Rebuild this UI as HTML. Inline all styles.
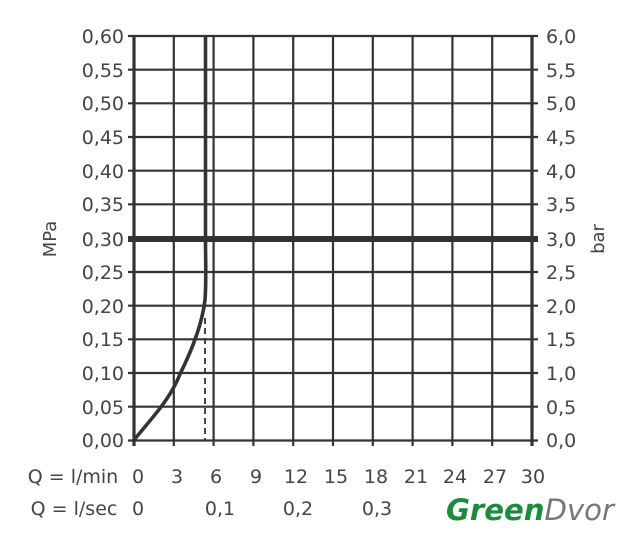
<!DOCTYPE html>
<html><head><meta charset="utf-8"><style>
html,body{margin:0;padding:0;background:#fff;}
svg{display:block;}
text{font-family:"DejaVu Sans","Liberation Sans",sans-serif;fill:#444;}
</style></head><body>
<svg width="629" height="551" viewBox="0 0 629 551" xmlns="http://www.w3.org/2000/svg">
<g stroke="#333" stroke-width="2.2" fill="none">
<line x1="173.8" y1="36" x2="173.8" y2="446"/>
<line x1="213.6" y1="36" x2="213.6" y2="446"/>
<line x1="253.4" y1="36" x2="253.4" y2="446"/>
<line x1="293.2" y1="36" x2="293.2" y2="446"/>
<line x1="333" y1="36" x2="333" y2="446"/>
<line x1="372.8" y1="36" x2="372.8" y2="446"/>
<line x1="412.6" y1="36" x2="412.6" y2="446"/>
<line x1="452.4" y1="36" x2="452.4" y2="446"/>
<line x1="492.2" y1="36" x2="492.2" y2="446"/>
<line x1="128" y1="36" x2="538" y2="36"/>
<line x1="128" y1="69.7" x2="538" y2="69.7"/>
<line x1="128" y1="103.3" x2="538" y2="103.3"/>
<line x1="128" y1="137" x2="538" y2="137"/>
<line x1="128" y1="170.7" x2="538" y2="170.7"/>
<line x1="128" y1="204.3" x2="538" y2="204.3"/>
<line x1="128" y1="272" x2="538" y2="272"/>
<line x1="128" y1="305.7" x2="538" y2="305.7"/>
<line x1="128" y1="339.3" x2="538" y2="339.3"/>
<line x1="128" y1="373" x2="538" y2="373"/>
<line x1="128" y1="406.7" x2="538" y2="406.7"/>
<line x1="128" y1="440.5" x2="538" y2="440.5"/>
</g>
<line x1="134" y1="36" x2="134" y2="446" stroke="#333" stroke-width="3.2"/>
<line x1="532" y1="36" x2="532" y2="446" stroke="#333" stroke-width="3.2"/>
<line x1="128" y1="239" x2="538" y2="239" stroke="#333" stroke-width="6"/>
<path d="M134,440 C150,420 170,400 180,374 C192,350 202,325 205,300 C206.5,280 205.5,260 205.5,240 L205.5,36" stroke="#333" stroke-width="3.6" fill="none"/>
<line x1="205" y1="318" x2="205" y2="440" stroke="#333" stroke-width="1.8" stroke-dasharray="6,4"/>
<g font-size="19" text-anchor="end">
<text x="124" y="43">0,60</text><text x="124" y="77">0,55</text><text x="124" y="110">0,50</text>
<text x="124" y="144">0,45</text><text x="124" y="178">0,40</text><text x="124" y="211">0,35</text>
<text x="124" y="246">0,30</text><text x="124" y="279">0,25</text><text x="124" y="313">0,20</text>
<text x="124" y="346">0,15</text><text x="124" y="380">0,10</text><text x="124" y="414">0,05</text>
<text x="124" y="447">0,00</text>
</g>
<g font-size="19">
<text x="546" y="43">6,0</text><text x="546" y="77">5,5</text><text x="546" y="110">5,0</text>
<text x="546" y="144">4,5</text><text x="546" y="178">4,0</text><text x="546" y="211">3,5</text>
<text x="546" y="246">3,0</text><text x="546" y="279">2,5</text><text x="546" y="313">2,0</text>
<text x="546" y="346">1,5</text><text x="546" y="380">1,0</text><text x="546" y="414">0,5</text>
<text x="546" y="447">0,0</text>
</g>
<text font-size="18" transform="translate(56,239) rotate(-90)" text-anchor="middle">MPa</text>
<text font-size="18" transform="translate(604,239) rotate(-90)" text-anchor="middle">bar</text>
<g font-size="19" text-anchor="middle">
<text x="73" y="483">Q = l/min</text>
<text x="138" y="483">0</text><text x="177" y="483">3</text><text x="216" y="483">6</text>
<text x="256" y="483">9</text><text x="296" y="483">12</text><text x="336" y="483">15</text>
<text x="376" y="483">18</text><text x="416" y="483">21</text><text x="455" y="483">24</text>
<text x="495" y="483">27</text><text x="533" y="483">30</text>
<text x="74" y="515">Q = l/sec</text>
<text x="138" y="515">0</text><text x="220" y="515">0,1</text><text x="298" y="515">0,2</text><text x="377" y="515">0,3</text>
</g>
<text x="446" y="520" font-family="Liberation Sans,sans-serif" font-size="29" font-style="italic" font-weight="bold" textLength="168" lengthAdjust="spacingAndGlyphs" style="fill:#1e8a3c">Green<tspan style="fill:#777;font-weight:normal">Dvor</tspan></text>
</svg>
</body></html>
